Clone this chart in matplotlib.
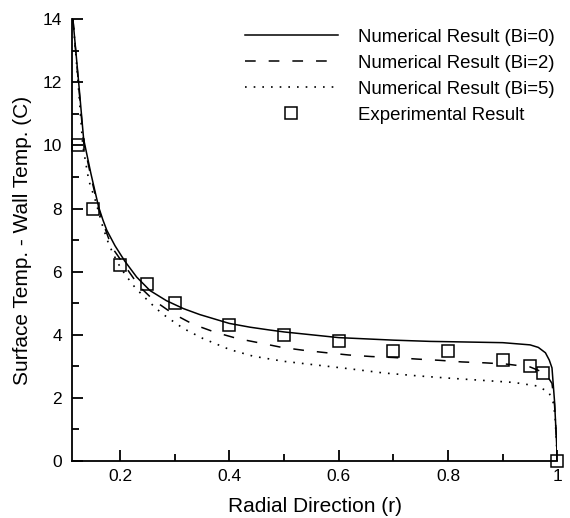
import numpy as np
import matplotlib.pyplot as plt
from matplotlib.ticker import MultipleLocator, FixedLocator

plt.rcParams['font.family'] = ['Liberation Sans', 'DejaVu Sans']

# Numerical result, Bi=0
r_bi0 = [0.114, 0.1245, 0.1336, 0.147, 0.161, 0.169, 0.176, 0.191, 0.209, 0.2305,
         0.255, 0.285, 0.316, 0.346, 0.40, 0.438, 0.474, 0.50, 0.60, 0.70, 0.768,
         0.804, 0.90, 0.95, 0.965, 0.978, 0.985, 0.990, 0.9946, 0.9975, 1.0]
t_bi0 = [14.0, 12.0, 10.2, 9.1, 8.05, 7.63, 7.31, 6.82, 6.33, 5.83,
         5.40, 5.08, 4.83, 4.64, 4.36, 4.24, 4.15, 4.09, 3.91, 3.83, 3.79,
         3.78, 3.75, 3.68, 3.60, 3.43, 3.20, 2.95, 1.90, 0.90, 0.0]

# Numerical result, Bi=2
r_bi2 = [0.114, 0.1245, 0.1336, 0.147, 0.161, 0.170, 0.185, 0.235, 0.262, 0.296,
         0.334, 0.374, 0.415, 0.456, 0.496, 0.535, 0.578, 0.618, 0.66, 0.70,
         0.743, 0.785, 0.825, 0.868, 0.907, 0.95, 0.978, 0.99, 0.9946, 0.9975, 1.0]
t_bi2 = [14.0, 11.9, 10.1, 9.0, 8.0, 7.5, 6.78, 5.54, 5.09, 4.68,
         4.33, 4.08, 3.88, 3.74, 3.60, 3.51, 3.43, 3.36, 3.31, 3.28,
         3.23, 3.19, 3.14, 3.11, 3.07, 2.98, 2.78, 2.46, 1.8, 0.9, 0.0]

# Numerical result, Bi=5
r_bi5 = [0.114, 0.1235, 0.132, 0.143, 0.155, 0.169, 0.179, 0.188, 0.197, 0.209,
         0.2275, 0.246, 0.267, 0.285, 0.316, 0.352, 0.401, 0.444, 0.499, 0.56,
         0.621, 0.682, 0.743, 0.798, 0.859, 0.92, 0.962, 0.984, 0.993, 0.996,
         0.998, 1.0]
t_bi5 = [14.0, 12.0, 10.0, 8.89, 8.26, 7.4, 6.9, 6.55, 6.25, 5.92,
         5.5, 5.17, 4.82, 4.57, 4.20, 3.88, 3.53, 3.32, 3.16, 3.04,
         2.92, 2.79, 2.70, 2.63, 2.56, 2.49, 2.38, 2.19, 1.82, 1.30,
         0.6, 0.0]

# Experimental result
r_exp = [0.124, 0.151, 0.2, 0.25, 0.3, 0.4, 0.5, 0.6, 0.7, 0.8, 0.9, 0.95, 0.974, 1.0]
t_exp = [10.0, 8.0, 6.2, 5.6, 5.0, 4.3, 4.0, 3.8, 3.5, 3.5, 3.2, 3.0, 2.8, 0.0]

fig = plt.figure(figsize=(5.7, 5.18), dpi=100)
ax = fig.add_axes([0.126, 0.110, 0.852, 0.853])

ax.plot(r_bi0, t_bi0, color='black', lw=1.1, label='Numerical Result (Bi=0)')
ax.plot(r_bi2, t_bi2, color='black', lw=1.1, dashes=(7, 8.5), label='Numerical Result (Bi=2)')
ax.plot(r_bi5, t_bi5, color='black', lw=1.2, dashes=(1, 4.2), label='Numerical Result (Bi=5)')
ax.plot(r_exp, t_exp, ls='none', marker='s', ms=8.5, mfc='none', mec='black', mew=1.1,
        clip_on=False, label='Experimental Result')

ax.set_xlim(0.112, 1.0)
ax.set_ylim(0, 14)

ax.spines['top'].set_visible(False)
ax.spines['right'].set_visible(False)
ax.spines['left'].set_linewidth(1.3)
ax.spines['bottom'].set_linewidth(1.3)

ax.xaxis.set_major_locator(FixedLocator([0.2, 0.4, 0.6, 0.8, 1.0]))
ax.xaxis.set_minor_locator(FixedLocator([0.3, 0.5, 0.7, 0.9]))
ax.yaxis.set_major_locator(MultipleLocator(2))
ax.yaxis.set_minor_locator(MultipleLocator(1))
ax.set_xticklabels(['0.2', '0.4', '0.6', '0.8', '1'])
ax.tick_params(which='major', direction='in', length=8, width=1.3, labelsize=12.5, pad=6)
ax.tick_params(which='minor', direction='in', length=5, width=1.3)
ax.tick_params(axis='y', which='major', pad=7)

ax.set_xlabel('Radial Direction (r)', fontsize=15, labelpad=9)
ax.set_ylabel('Surface Temp. - Wall Temp. (C)', fontsize=15, labelpad=8)

ax.legend(loc='upper left', bbox_to_anchor=(0.322, 1.016), frameon=False, fontsize=13.4,
          handlelength=5.0, handletextpad=1.07, labelspacing=0.48)

fig.savefig('out.png', dpi=100)
